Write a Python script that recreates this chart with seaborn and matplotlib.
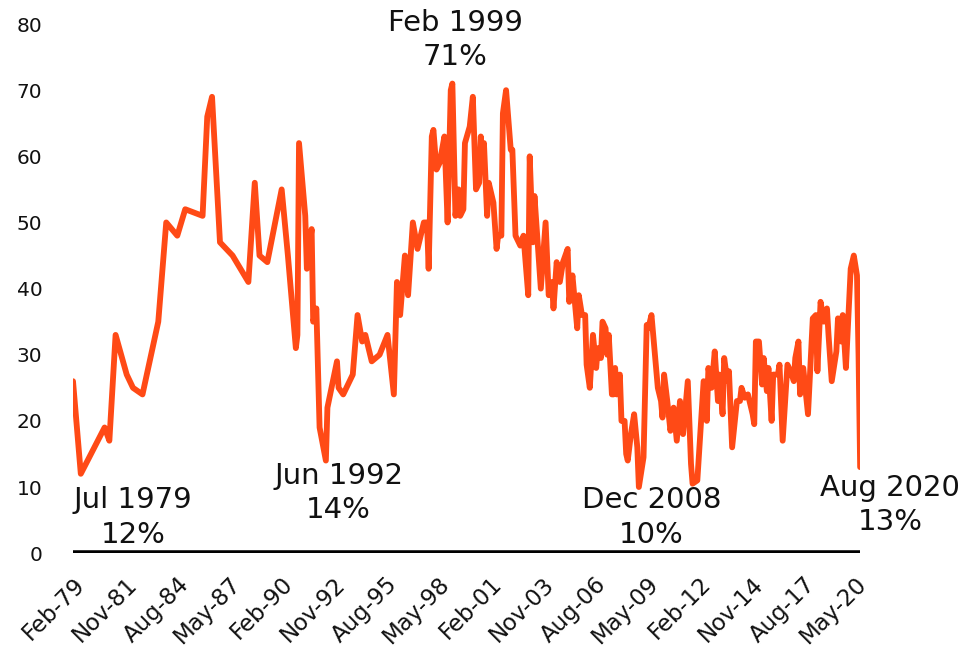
import pandas as pd
import numpy as np
import matplotlib
matplotlib.use("Agg")
import matplotlib.pyplot as plt
import matplotlib.dates as mdates
import seaborn as sns

# monthly readings (%)
dates = [
    "1979-02", "1979-07", "1980-10", "1981-01", "1981-05", "1981-12", "1982-04", "1982-10",
    "1983-08", "1984-01", "1984-08", "1985-01", "1985-12", "1986-03", "1986-06", "1986-11",
    "1987-07", "1988-05", "1988-09", "1988-12", "1989-05", "1990-02", "1990-06", "1990-11",
    "1990-12", "1991-01", "1991-05", "1991-06", "1991-09", "1991-10", "1991-12", "1992-02",
    "1992-06", "1992-07", "1993-01", "1993-02", "1993-05", "1993-11", "1994-02", "1994-05",
    "1994-07", "1994-11", "1995-04", "1995-09", "1996-01", "1996-03", "1996-05", "1996-08",
    "1996-10", "1997-01", "1997-04", "1997-08", "1997-10", "1997-11", "1998-01", "1998-02",
    "1998-04", "1998-06", "1998-09", "1998-11", "1999-01", "1999-02", "1999-04", "1999-06",
    "1999-07", "1999-09", "1999-10", "2000-01", "2000-03", "2000-05", "2000-07", "2000-08",
    "2000-09", "2000-10", "2000-12", "2001-01", "2001-04", "2001-06", "2001-07", "2001-09",
    "2001-10", "2001-12", "2002-03", "2002-04", "2002-06", "2002-09", "2002-11", "2003-02",
    "2003-03", "2003-05", "2003-06", "2003-10", "2004-01", "2004-03", "2004-05", "2004-06",
    "2004-08", "2004-10", "2004-12", "2005-03", "2005-04", "2005-06", "2005-09", "2005-10",
    "2005-12", "2006-02", "2006-03", "2006-05", "2006-07", "2006-09", "2006-10", "2006-12",
    "2007-01", "2007-03", "2007-04", "2007-05", "2007-07", "2007-08", "2007-09", "2007-10",
    "2007-12", "2008-01", "2008-03", "2008-04", "2008-05", "2008-07", "2008-09", "2008-11",
    "2008-12", "2009-03", "2009-05", "2009-06", "2009-08", "2009-12", "2010-02", "2010-03",
    "2010-04", "2010-06", "2010-08", "2010-10", "2010-12", "2011-02", "2011-04", "2011-07",
    "2011-09", "2011-10", "2012-01", "2012-03", "2012-05", "2012-06", "2012-07", "2012-08",
    "2012-10", "2012-12", "2013-02", "2013-03", "2013-05", "2013-06", "2013-08", "2013-09",
    "2013-11", "2014-02", "2014-04", "2014-05", "2014-07", "2014-09", "2014-12", "2015-01",
    "2015-02", "2015-04", "2015-06", "2015-07", "2015-09", "2015-10", "2015-12", "2016-01",
    "2016-04", "2016-05", "2016-07", "2016-10", "2016-12", "2017-02", "2017-03", "2017-05",
    "2017-06", "2017-08", "2017-11", "2018-02", "2018-04", "2018-05", "2018-07", "2018-09",
    "2018-11", "2018-12", "2019-02", "2019-05", "2019-06", "2019-08", "2019-09", "2019-11",
    "2020-02", "2020-04", "2020-06", "2020-07", "2020-08",
]
values = [
    26, 12, 19, 17, 33, 27, 25, 24,
    35, 50, 48, 52, 51, 66, 69, 47,
    45, 41, 56, 45, 44, 55, 45, 31,
    33, 62, 51, 43, 49, 35, 37, 19,
    14, 22, 29, 25, 24, 27, 36, 32,
    33, 29, 30, 33, 24, 41, 36, 45,
    39, 50, 46, 50, 50, 43, 63, 64,
    58, 59, 63, 50, 70, 71, 51, 55,
    51, 52, 62, 64.5, 69, 55, 56, 63,
    60, 62, 51, 56, 53, 46, 48, 48,
    66.5, 70, 61, 61, 48, 46.5, 48, 39,
    60, 47, 54, 40, 50, 39, 41, 37,
    44, 41, 44, 46, 38, 42, 34, 39,
    36, 36, 28.5, 25, 33, 28, 31, 29.5,
    35, 34, 30, 33, 24, 24, 28, 24,
    27, 20, 20, 15, 14, 18, 21, 16,
    10, 14.5, 34.5, 34, 36, 25, 23, 20.5,
    27, 23, 18.5, 22, 17, 23, 18, 26,
    13.5, 10.5, 11, 18.5, 26, 25.5, 20, 28,
    25, 30.5, 23, 27, 21, 29.5, 26, 27.5,
    16, 23, 23, 25, 23.5, 24, 21, 19.5,
    32, 32, 25.5, 29.5, 24.5, 28, 20, 27,
    27, 28.5, 17, 28.5, 27.5, 26, 29.5, 32,
    24, 28, 21, 35.5, 36, 27.5, 38, 35,
    37, 33, 26, 30.5, 35.5, 32, 36, 28,
    43, 45, 42, 30, 13,
]

# callouts: label, x position, y position (data units)
note_labels = ["Jul 1979\n12%", "Jun 1992\n14%", "Feb 1999\n71%", "Dec 2008\n10%", "Aug 2020\n13%"]
note_dates = ["1982-04", "1993-02", "1999-04", "2009-08", "2022-03"]
note_y = [5.4, 9.1, 77.6, 5.4, 7.3]

tick_dates = pd.date_range("1979-02-01", periods=16, freq="33MS")
y_ticks = list(range(0, 81, 10))

df = pd.DataFrame({"date": pd.to_datetime(dates), "value": values})

sns.set_style("white")
plt.rcParams["font.family"] = ["DejaVu Sans"]

fig = plt.figure(figsize=(9.67, 6.5), dpi=100)
ax = fig.add_axes([0.0755, 0.149, 0.814, 0.814])

sns.lineplot(data=df, x="date", y="value", ax=ax, color="#FF4A16", linewidth=4.2)
ax.axhline(0, color="black", linewidth=4.0, zorder=3)

ax.set_xlim(pd.Timestamp("1979-02-01"), pd.Timestamp("2020-08-01"))
ax.set_ylim(0, 80)
ax.set_yticks(y_ticks)
ax.set_xticks(tick_dates)
ax.xaxis.set_major_formatter(mdates.DateFormatter("%b-%y"))
ax.tick_params(axis="y", length=0, pad=22, labelsize=14.5, labelcolor="#111111")
ax.tick_params(axis="x", length=0, pad=14, labelcolor="#111111")
plt.setp(ax.get_xticklabels(), rotation=45, ha="right", rotation_mode="anchor", fontsize=16.5)
ax.set_xlabel("")
ax.set_ylabel("")
sns.despine(ax=ax, left=True, bottom=True)

for lab, d, y in zip(note_labels, note_dates, note_y):
    ax.text(pd.Timestamp(d), y, lab, ha="center", va="center", fontsize=21,
            linespacing=1.3, color="#111111", clip_on=False)

fig.savefig("out.png", dpi=100)
